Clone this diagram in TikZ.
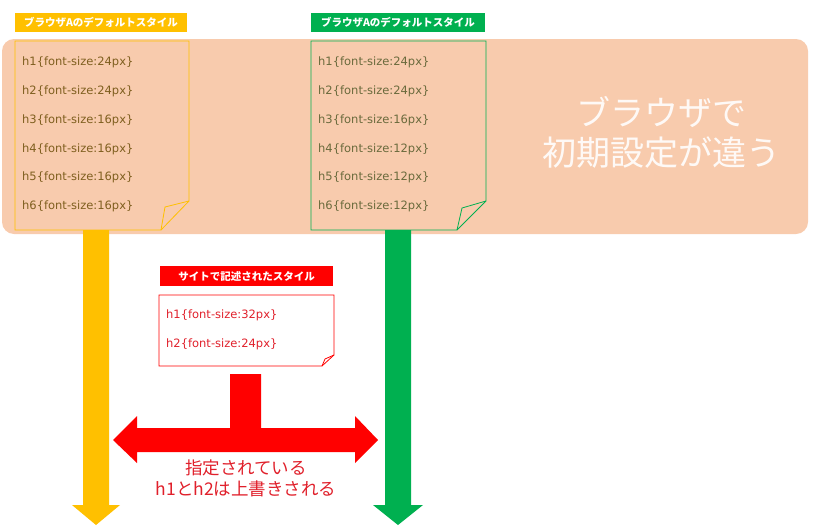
\documentclass[tikz,border=0pt]{standalone}
\usepackage{fontspec}
\setmainfont{Noto Sans CJK JP}
\newfontfamily\latinfont{DejaVu Sans}
\definecolor{peach}{HTML}{F8CBAD}
\definecolor{gold}{HTML}{FFC000}
\definecolor{grn}{HTML}{00B050}
\definecolor{rd}{HTML}{FF0000}
\definecolor{goldtxt}{HTML}{7F5F1F}
\definecolor{grntxt}{HTML}{6A6A3C}
\definecolor{rdtxt}{HTML}{E0202B}
\tikzset{
  css/.style={anchor=west, font=\latinfont\fontsize{11.5}{13}\selectfont, inner sep=0pt},
  tag/.style={anchor=center, font=\fontsize{10.5}{12}\bfseries\selectfont, text=white, inner sep=0pt},
  big/.style={text=white, font=\fontsize{34}{40}\selectfont, inner sep=0pt, opacity=0.9},
  note/.style={text=rdtxt, font=\fontsize{17.5}{20}\selectfont, inner sep=0pt},
}
\begin{document}
\begin{tikzpicture}[x=1pt,y=-1pt]
\useasboundingbox (0,0) rectangle (813,530);
% background panel
\fill[peach, rounded corners=12pt] (2,39) rectangle (808,234);
% left tag & doc
\fill[gold] (15,13) rectangle (187,32);
\node[tag] (tagA) at (101,22.5) {ブラウザAのデフォルトスタイル};
\draw[gold, line width=0.8pt] (15,41) -- (189,41) -- (189,201) -- (161,230) -- (15,230) -- cycle;
\draw[gold, line width=0.8pt] (189,201) -- (165,207) -- (161,230);
% right tag & doc
\fill[grn] (311,13) rectangle (485,32);
\node[tag] (tagB) at (398,22.5) {ブラウザAのデフォルトスタイル};
\draw[grn, line width=0.8pt] (311,41) -- (486,41) -- (486,201) -- (457,230) -- (311,230) -- cycle;
\draw[grn, line width=0.8pt] (486,201) -- (462,208) -- (457,230);
% css lines
\foreach \i/\a/\b [count=\k] in {1/24/24,2/24/24,3/16/16,4/16/12,5/16/12,6/16/12}{
  \pgfmathsetmacro{\yy}{62.5+(\k-1)*28.8}
  \node[css, text=goldtxt] (la\i) at (22,\yy) {h\i\{font-size:\a px\}};
  \node[css, text=grntxt] (lb\i) at (318,\yy) {h\i\{font-size:\b px\}};
}
% big text
\node[big] (big1) at (661,112) {ブラウザで};
\node[big] (big2) at (661,153) {初期設定が違う};
% yellow arrow
\fill[gold] (83,230) -- (109,230) -- (109,505) -- (120,505) -- (96,525) -- (72,505) -- (83,505) -- cycle;
% green arrow
\fill[grn] (385,230) -- (411,230) -- (411,505) -- (423,505) -- (398,525) -- (373,505) -- (385,505) -- cycle;
% red tag & doc
\fill[rd] (160,266) rectangle (333,286);
\node[tag] (tagC) at (246.5,276) {サイトで記述されたスタイル};
\draw[rd, line width=0.8pt] (159,295) -- (334,295) -- (334,355) -- (322,366) -- (159,366) -- cycle;
\draw[rd, line width=0.8pt] (334,355) -- (325,359) -- (322,366);
\node[css, text=rdtxt] (lc1) at (166,315.5) {h1\{font-size:32px\}};
\node[css, text=rdtxt] (lc2) at (166,344.5) {h2\{font-size:24px\}};
% red T double arrow
\fill[rd] (230,374) -- (261,374) -- (261,428) -- (355,428) -- (355,416) -- (378,440) -- (355,463) -- (355,452)
  -- (137,452) -- (137,463) -- (113,440) -- (137,416) -- (137,428) -- (230,428) -- cycle;
\node[note] (n1) at (246,468) {指定されている};
\node[note] (n2) at (246,489) {h1とh2は上書きされる};
\end{tikzpicture}
\end{document}
